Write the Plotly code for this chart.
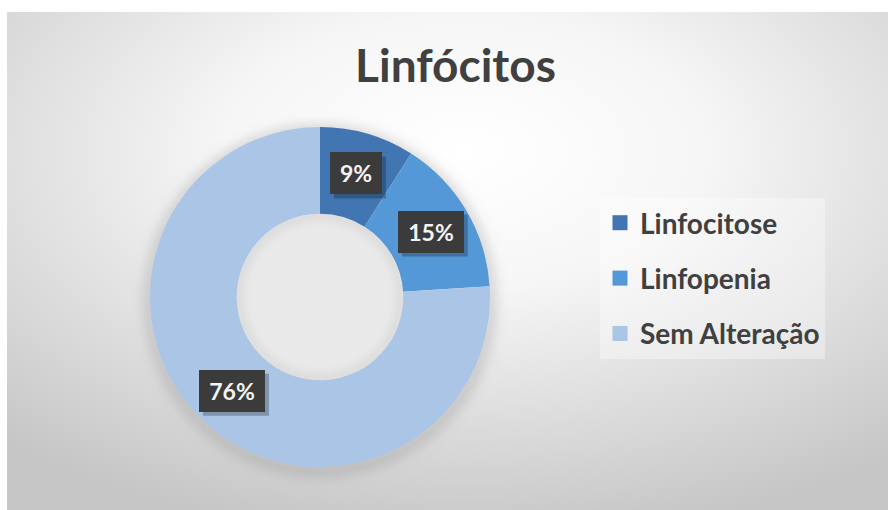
import base64
import math
import plotly.graph_objects as go

# Lymphocyte findings
categories = ["Linfocitose", "Linfopenia", "Sem Alteração"]
percentages = [9, 15, 76]
slice_colors = ["#4176B2", "#5498D8", "#ABC5E6"]
chart_title = "Linfócitos"

FIG_W, FIG_H = 888, 510
MARGIN = dict(l=7, r=0, t=12, b=0)
PLOT_W = FIG_W - MARGIN["l"] - MARGIN["r"]
PLOT_H = FIG_H - MARGIN["t"] - MARGIN["b"]

PIE_DOMAIN_X = [0.1623, 0.5482]
PIE_DOMAIN_Y = [0.0863, 0.7691]
HOLE = 0.49

# pie geometry in pixels (relative to the plot area)
cx_px = (PIE_DOMAIN_X[0] + PIE_DOMAIN_X[1]) / 2 * PLOT_W
cy_px = (1 - (PIE_DOMAIN_Y[0] + PIE_DOMAIN_Y[1]) / 2) * PLOT_H
r_out = min((PIE_DOMAIN_X[1] - PIE_DOMAIN_X[0]) * PLOT_W,
            (PIE_DOMAIN_Y[1] - PIE_DOMAIN_Y[0]) * PLOT_H) / 2
r_in = r_out * HOLE

# background: soft radial gradient plus a blurred shadow around the ring
svg = f"""<svg xmlns='http://www.w3.org/2000/svg' width='{PLOT_W}' height='{PLOT_H}' viewBox='0 0 {PLOT_W} {PLOT_H}'>
<defs>
<radialGradient id='bg' cx='0.52' cy='0.28' r='0.78'>
<stop offset='0' stop-color='#ffffff'/>
<stop offset='0.35' stop-color='#f6f6f6'/>
<stop offset='1' stop-color='#c6c6c6'/>
</radialGradient>
<filter id='blur' x='-50%' y='-50%' width='200%' height='200%'><feGaussianBlur stdDeviation='7'/></filter>
<filter id='blur2' x='-50%' y='-50%' width='200%' height='200%'><feGaussianBlur stdDeviation='5'/></filter>
</defs>
<rect width='{PLOT_W}' height='{PLOT_H}' fill='url(#bg)'/>
<circle cx='{cx_px:.1f}' cy='{cy_px + 4:.1f}' r='{r_out:.1f}' fill='none' stroke='#8a8a8a' stroke-opacity='0.55' stroke-width='8' filter='url(#blur)'/>
<circle cx='{cx_px:.1f}' cy='{cy_px:.1f}' r='{r_in:.1f}' fill='#e9e9e9'/>
<circle cx='{cx_px:.1f}' cy='{cy_px:.1f}' r='{r_in - 2:.1f}' fill='none' stroke='#b5b5b5' stroke-opacity='0.5' stroke-width='5' filter='url(#blur2)'/>
</svg>"""
bg_uri = "data:image/svg+xml;base64," + base64.b64encode(svg.encode()).decode()

fig = go.Figure()

fig.add_trace(go.Pie(
    labels=categories,
    values=percentages,
    hole=HOLE,
    sort=False,
    direction="clockwise",
    rotation=0,
    marker=dict(colors=slice_colors, line=dict(width=0)),
    textinfo="none",
    domain=dict(x=PIE_DOMAIN_X, y=PIE_DOMAIN_Y),
    showlegend=False,
    hoverinfo="label+percent",
))

# legend entries, one group each so the rows can be spaced out
for name, color in zip(categories, slice_colors):
    fig.add_trace(go.Scatter(
        x=[None], y=[None], mode="markers", name=name, legendgroup=name,
        marker=dict(symbol="square", size=15, color=color),
        hoverinfo="skip",
    ))

# percentage labels in dark boxes at the middle of each ring segment
total = sum(percentages)
r_mid = (r_out + r_in) / 2 + 2
start = 0.0
annotations = []
shapes = []
SHADOW = 4
for val in percentages:
    mid = (start + val / 2) / total * 2 * math.pi
    start += val
    px = cx_px + r_mid * math.sin(mid)
    py = cy_px - r_mid * math.cos(mid)
    label = f"{round(val / total * 100)}%"
    box_w = 14 * len(label) + 24
    box_h = 42
    # drop shadow behind the label box
    shapes.append(dict(
        type="rect", xref="paper", yref="paper", layer="above",
        x0=(px - box_w / 2 + SHADOW) / PLOT_W, x1=(px + box_w / 2 + SHADOW) / PLOT_W,
        y0=1 - (py + box_h / 2 + SHADOW) / PLOT_H, y1=1 - (py - box_h / 2 + SHADOW) / PLOT_H,
        fillcolor="rgba(0,0,0,0.25)", line=dict(width=0),
    ))
    annotations.append(dict(
        x=px / PLOT_W, y=1 - py / PLOT_H, xref="paper", yref="paper",
        xanchor="center", yanchor="middle",
        text=label, showarrow=False, width=box_w, height=box_h,
        borderpad=0, borderwidth=0, align="center", valign="middle",
        font=dict(family="Lato", size=23, color="#f4f4f4", weight="bold"),
        bgcolor="#3b3b3b",
    ))

fig.update_layout(
    width=FIG_W, height=FIG_H,
    margin=MARGIN,
    paper_bgcolor="#ffffff",
    plot_bgcolor="rgba(0,0,0,0)",
    title=dict(
        text=chart_title, x=0.513, xanchor="center", y=1 - 66 / FIG_H, yanchor="middle",
        font=dict(family="Lato", size=46, color="#404040", weight="bold"),
    ),
    xaxis=dict(visible=False),
    yaxis=dict(visible=False),
    legend=dict(
        x=(600 - MARGIN["l"]) / PLOT_W, xanchor="left",
        y=1 - (198 - MARGIN["t"]) / PLOT_H, yanchor="top",
        font=dict(family="Lato", size=28, color="#404040", weight="bold"),
        bgcolor="rgba(255,255,255,0.35)",
        tracegroupgap=16,
        itemclick=False, itemdoubleclick=False,
    ),
    annotations=annotations,
    shapes=shapes,
    images=[dict(
        source=bg_uri, xref="paper", yref="paper", x=0, y=1,
        sizex=1, sizey=1, sizing="stretch", layer="below",
        xanchor="left", yanchor="top",
    )],
)

fig.write_html("out.html")
